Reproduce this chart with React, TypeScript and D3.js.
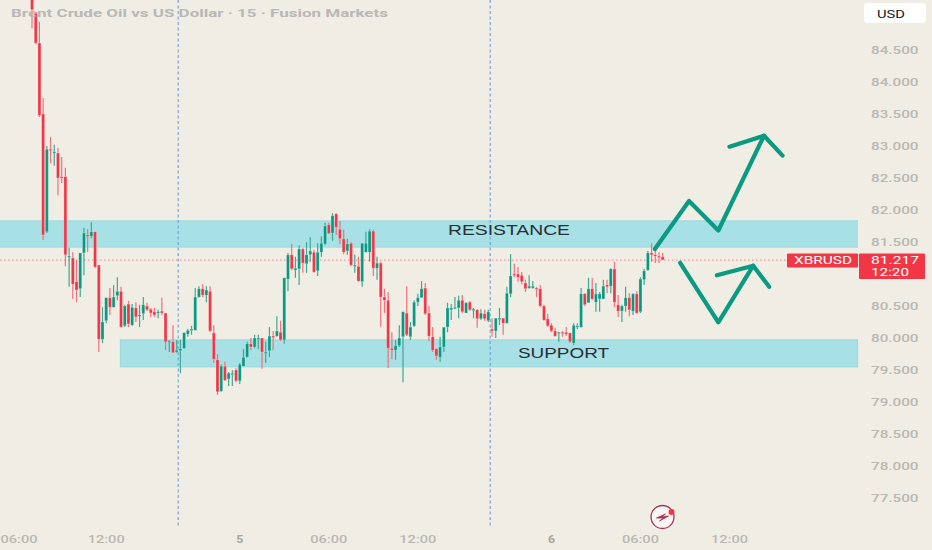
import * as d3 from "d3";

const opens = [85.59,85.09,84.61,83.50,81.66,82.95,82.89,82.89,82.52,82.52,81.27,81.25,80.88,80.77,81.33,81.61,81.59,81.66,81.14,79.98,80.27,80.63,80.48,80.66,80.73,80.19,80.53,80.20,80.47,80.34,80.38,80.50,80.45,80.41,80.39,80.42,80.39,79.94,79.94,79.78,79.80,79.84,80.06,80.12,80.12,80.64,80.77,80.67,80.73,80.08,79.66,79.17,79.56,79.36,79.44,79.50,79.33,79.56,79.70,79.91,79.86,79.98,80.00,79.77,79.80,80.03,80.03,80.09,79.97,80.92,81.30,81.06,81.08,81.39,81.16,81.30,81.34,81.05,81.34,81.47,81.77,81.64,81.94,81.70,81.55,81.36,81.48,81.12,81.12,80.88,81.34,81.34,81.67,81.09,81.17,80.64,80.59,79.84,79.81,79.88,80.02,80.39,80.02,80.19,80.56,80.63,80.78,80.39,80.02,79.83,79.70,79.86,80.17,80.44,80.47,80.47,80.59,80.39,80.56,80.44,80.44,80.30,80.38,80.27,80.14,80.11,80.30,80.31,80.23,80.69,81.00,81.00,80.98,80.86,80.78,80.78,80.78,80.77,80.50,80.30,80.20,80.11,80.08,80.09,80.09,80.08,79.92,80.17,80.17,80.69,80.55,80.77,80.56,80.61,80.61,80.83,80.81,81.08,80.52,80.42,80.50,80.63,80.42,80.69,80.41,80.91,81.06,81.33,81.30,81.28,81.27];
const highs = [85.67,85.09,84.94,83.75,83.00,83.14,83.02,82.97,82.83,82.66,81.41,81.34,81.22,81.33,81.72,81.70,81.81,81.66,81.14,80.48,80.63,80.78,80.83,80.95,80.80,80.52,80.58,80.53,80.56,80.52,80.64,80.55,80.47,80.47,80.44,80.63,80.39,79.97,80.20,79.97,79.97,80.09,80.14,80.19,80.78,80.81,80.84,80.81,80.81,80.20,79.75,79.59,79.63,79.47,79.50,79.53,79.61,79.83,79.94,80.00,80.05,80.05,80.00,79.94,80.17,80.11,80.34,80.27,80.94,81.33,81.47,81.27,81.45,81.41,81.50,81.58,81.38,81.48,81.59,81.80,81.80,81.95,81.95,81.83,81.69,81.55,81.50,81.30,81.27,81.48,81.66,81.70,81.69,81.27,81.19,80.77,80.72,80.09,79.97,80.20,80.41,80.81,80.25,80.59,80.69,80.89,80.86,80.50,80.17,79.84,80.02,80.17,80.55,80.53,80.64,80.66,80.67,80.56,80.58,80.47,80.45,80.45,80.44,80.44,80.31,80.31,80.47,80.31,80.80,81.31,81.16,81.11,81.03,80.91,80.98,80.89,80.80,80.83,80.52,80.38,80.23,80.16,80.09,80.11,80.17,80.08,80.23,80.23,80.78,80.70,80.94,80.94,80.86,80.72,80.91,80.91,81.09,81.19,80.67,80.52,80.80,80.70,80.70,80.73,80.95,81.08,81.36,81.48,81.36,81.34,81.33];
const lows = [84.84,84.59,83.45,81.53,81.64,82.73,82.69,82.23,82.42,81.12,80.80,80.61,80.56,80.64,80.98,81.34,81.56,81.09,79.78,79.92,80.23,80.36,80.48,80.59,80.17,80.17,80.17,80.19,80.25,80.17,80.28,80.42,80.33,80.33,80.31,80.36,79.81,79.78,79.77,79.77,79.45,79.83,80.02,80.05,80.12,80.63,80.64,80.56,80.09,79.61,79.11,79.16,79.33,79.25,79.25,79.31,79.28,79.56,79.70,79.81,79.84,79.83,79.52,79.61,79.70,79.81,80.02,79.95,79.91,80.73,81.06,80.94,80.83,81.02,81.02,81.19,81.02,80.97,81.27,81.45,81.63,81.52,81.61,81.47,81.31,81.30,81.12,81.02,80.88,80.80,81.34,81.19,80.97,80.91,80.17,80.39,79.53,79.67,79.66,79.86,79.31,80.03,79.97,80.17,80.50,80.63,80.36,79.95,79.78,79.66,79.63,79.78,80.09,80.28,80.45,80.31,80.39,80.39,80.42,80.31,80.16,80.28,80.27,80.25,80.02,80.00,80.20,80.05,80.23,80.64,80.95,80.88,80.84,80.72,80.77,80.77,80.64,80.48,80.27,80.17,80.09,80.02,79.94,80.02,80.03,79.92,79.89,80.14,80.16,80.50,80.55,80.59,80.41,80.41,80.61,80.70,80.70,80.48,80.33,80.25,80.41,80.34,80.36,80.38,80.39,80.83,81.05,81.19,81.17,81.17,81.22];
const closes = [85.13,84.61,83.48,81.61,82.95,82.94,82.91,82.50,82.50,81.30,81.28,80.84,80.75,81.33,81.64,81.59,81.66,81.11,79.98,80.25,80.63,80.48,80.64,80.73,80.17,80.50,80.22,80.48,80.33,80.36,80.52,80.44,80.39,80.36,80.41,80.39,79.94,79.95,79.77,79.81,79.83,80.08,80.12,80.14,80.64,80.77,80.67,80.75,80.11,79.67,79.16,79.56,79.34,79.45,79.45,79.33,79.59,79.70,79.91,79.86,80.00,80.00,79.78,79.78,80.03,80.02,80.11,79.97,80.94,81.30,81.08,81.09,81.39,81.17,81.30,81.36,81.03,81.34,81.48,81.75,81.63,81.91,81.73,81.55,81.34,81.47,81.14,81.14,80.89,81.48,81.48,81.67,81.09,81.17,80.64,80.59,79.84,79.81,79.88,80.00,80.41,80.05,80.17,80.56,80.63,80.77,80.38,80.03,79.81,79.72,79.86,80.17,80.47,80.47,80.48,80.59,80.41,80.55,80.44,80.45,80.30,80.39,80.30,80.41,80.11,80.31,80.31,80.23,80.70,80.97,80.98,80.95,80.88,80.77,80.81,80.81,80.77,80.50,80.28,80.19,80.11,80.03,80.09,80.08,80.06,79.94,80.20,80.19,80.69,80.52,80.77,80.61,80.69,80.69,80.81,80.80,81.08,80.56,80.42,80.50,80.63,80.44,80.69,80.39,80.92,81.05,81.33,81.30,81.28,81.27,81.22];

const priceTicks = [77.5, 78, 78.5, 79, 79.5, 80, 80.5, 81.5, 82, 82.5, 83, 83.5, 84, 84.5];
const timeIndex = [-3.5, 20, 56, 80, 104, 140, 164, 188];
const timeLabels = ["06:00", "12:00", "5", "06:00", "12:00", "6", "06:00", "12:00"];
const sessionLines = [39.4, 123.5];
const lastPrice = 81.217;
const resistance = [81.83, 81.42];
const support = [79.97, 79.55];

// annotation drawings as [bar index, price]
const upPath: [number, number][] = [[167.9, 81.39], [177.1, 82.14], [185, 81.68], [197.3, 83.16]];
const upHead: [number, number][] = [[188, 82.99], [197.3, 83.16], [202.3, 82.85]];
const downPath: [number, number][] = [[174.7, 81.175], [185, 80.245], [194.4, 81.13]];
const downHead: [number, number][] = [[184.6, 80.98], [194.4, 81.13], [198.7, 80.8]];

const RED = "#f23645";
const GREEN = "#089981";
const AXIS = "#b9b8b2";
const ZONE = "#a7e0e5";

export default function App() {
  const width = 932,
    height = 550,
    plotRight = 858;

  const x = d3.scaleLinear().domain([0, 170]).range([32, 662.7]);
  const y = d3.scaleLinear().domain([84.5, 77.5]).range([50, 498]);

  const line = d3
    .line<[number, number]>()
    .x((d) => x(d[0]))
    .y((d) => y(d[1]))
    .curve(d3.curveLinear);

  const lastY = y(lastPrice);

  return (
    <svg
      width={width}
      height={height}
      style={{ position: "absolute", left: 0, top: 0, fontFamily: "Roboto, sans-serif" }}
    >
      <rect width={width} height={height} fill="#f0ede5" />

      {/* zones */}
      <rect x={0} y={y(resistance[0])} width={plotRight} height={y(resistance[1]) - y(resistance[0])} fill={ZONE} />
      <line x1={0} x2={plotRight} y1={y(resistance[0])} y2={y(resistance[0])} stroke="#98dbe1" />
      <line x1={0} x2={plotRight} y1={y(resistance[1])} y2={y(resistance[1])} stroke="#98dbe1" />
      <rect
        x={120.5}
        y={y(support[0])}
        width={plotRight - 121}
        height={y(support[1]) - y(support[0])}
        fill={ZONE}
        stroke="#98dbe1"
        strokeWidth={1.2}
      />

      {/* session separators */}
      {sessionLines.map((d) => (
        <line
          key={d}
          x1={x(d)}
          x2={x(d)}
          y1={0}
          y2={526}
          stroke="#6e9fdf"
          strokeWidth={1.1}
          strokeDasharray="3 2.5"
        />
      ))}

      {/* last price line */}
      <line x1={0} x2={790} y1={lastY} y2={lastY} stroke="#f2737e" strokeWidth={0.9} strokeDasharray="1.5 2.5" />

      {/* candles */}
      {opens.map((o, i) => {
        const c = closes[i];
        const up = c >= o;
        const top = y(Math.max(o, c));
        const h = Math.max(Math.abs(y(o) - y(c)), 1.4);
        return (
          <g key={i}>
            <line
              x1={x(i)}
              x2={x(i)}
              y1={y(highs[i])}
              y2={y(lows[i])}
              stroke={up ? "#3fa893" : "#f2707c"}
              strokeWidth={1.2}
            />
            <rect
              x={x(i) - 1.5}
              y={top}
              width={3}
              height={h}
              fill={up ? GREEN : RED}
              stroke="#ffffff"
              strokeOpacity={0.35}
              strokeWidth={0.7}
            />
          </g>
        );
      })}

      {/* title */}
      <text x={11} y={17} fontSize={11.5} fontWeight={700} fill="#b8b8b5" textLength={377} lengthAdjust="spacingAndGlyphs">
        Brent Crude Oil vs US Dollar · 15 · Fusion Markets
      </text>

      {/* zone labels */}
      <text x={448} y={235} fontSize={14.5} fontFamily="Liberation Sans" fill="#2a2e39" textLength={122} lengthAdjust="spacingAndGlyphs">
        RESISTANCE
      </text>
      <text x={518} y={358} fontSize={14.5} fontFamily="Liberation Sans" fill="#2a2e39" textLength={91} lengthAdjust="spacingAndGlyphs">
        SUPPORT
      </text>

      {/* trade idea arrows */}
      {[upPath, upHead, downPath, downHead].map((p, i) => (
        <path
          key={i}
          d={line(p) ?? ""}
          fill="none"
          stroke="#0a9a80"
          strokeWidth={4.2}
          strokeLinecap="round"
          strokeLinejoin="round"
        />
      ))}

      {/* price axis */}
      <rect x={864} y={3} width={62} height={20} rx={4} fill="#ffffff" />
      <text x={877} y={17.5} fontSize={11.5} fill="#131722" textLength={28} lengthAdjust="spacingAndGlyphs">
        USD
      </text>
      {priceTicks.map((p) => (
        <text
          key={p}
          x={871}
          y={y(p) + 4.3}
          fontSize={11.5}
          fontWeight={500}
          fill={AXIS}
          textLength={47.5}
          lengthAdjust="spacingAndGlyphs"
        >
          {p.toFixed(3)}
        </text>
      ))}

      {/* last price labels */}
      <rect x={787} y={lastY - 6.5} width={71} height={14} rx={1} fill={RED} />
      <text x={794} y={lastY + 4.3} fontSize={10.5} fill="#fff" textLength={58} lengthAdjust="spacingAndGlyphs">
        XBRUSD
      </text>
      <rect x={859} y={lastY - 6.5} width={66} height={25.5} rx={1} fill={RED} />
      <text x={871} y={lastY + 4} fontSize={11.5} fill="#fff" textLength={48} lengthAdjust="spacingAndGlyphs">
        {lastPrice.toFixed(3)}
      </text>
      <text x={871} y={lastY + 15.8} fontSize={11.5} fill="#fff" textLength={38} lengthAdjust="spacingAndGlyphs">
        12:20
      </text>

      {/* time axis */}
      {timeIndex.map((d, i) => {
        const isDay = timeLabels[i].length === 1;
        return (
          <text
            key={i}
            x={x(d)}
            y={543}
            fontSize={11.5}
            textAnchor="middle"
            fontWeight={isDay ? 700 : 500}
            fill={isDay ? "#a5a5a0" : AXIS}
            textLength={isDay ? 7 : 37}
            lengthAdjust="spacingAndGlyphs"
          >
            {timeLabels[i]}
          </text>
        );
      })}

      {/* logo */}
      <g transform="translate(662.5,517)">
        <circle r={13} fill="#f8f5f2" />
        <circle r={11.5} fill="none" stroke="#a92f55" strokeWidth={1.3} />
        <path d="M-6 1 L3 -3 L-1 0 L6 -1 L-3 4 L1 1 Z" fill="#a92f55" stroke="#a92f55" strokeWidth={0.8} />
        <circle cx={9} cy={-5} r={3} fill={RED} />
      </g>
    </svg>
  );
}
